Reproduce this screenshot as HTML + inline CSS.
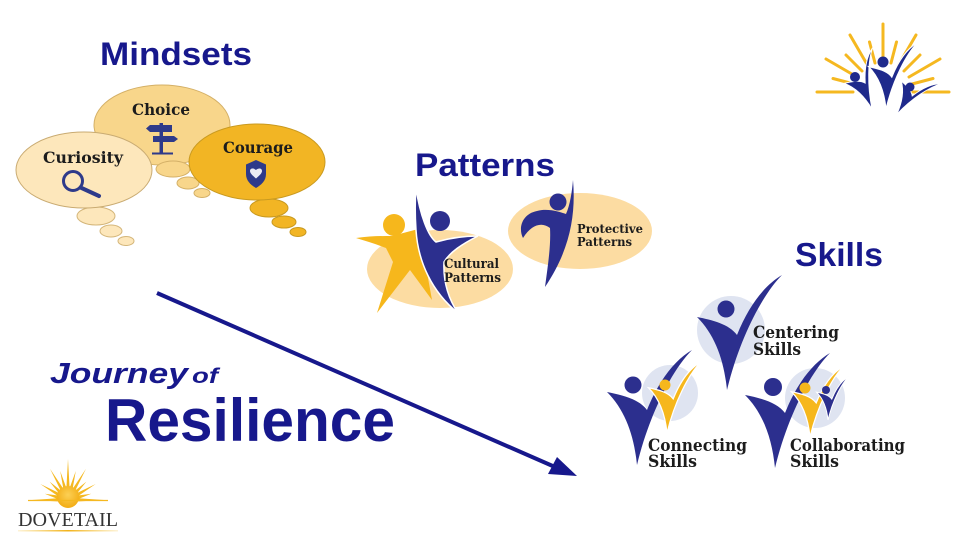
<!DOCTYPE html>
<html><head><meta charset="utf-8"><style>
html,body{margin:0;padding:0;background:#fff;}
svg{display:block;}
</style></head><body>
<svg width="960" height="540" viewBox="0 0 960 540" xmlns="http://www.w3.org/2000/svg">
<defs>
<path id="fig" d="M-30,-73 C-15,-70 2,-66 10,-55 C22,-85 38,-105 55,-115 C35,-95 12,-50 0,0 C-3,-30 -12,-55 -30,-73 Z"/>
<linearGradient id="gl" x1="0" x2="1" y1="0" y2="0">
<stop offset="0" stop-color="#f6c338" stop-opacity="0.2"/><stop offset="0.5" stop-color="#f2b21a"/><stop offset="1" stop-color="#f6c338" stop-opacity="0.2"/>
</linearGradient>
<radialGradient id="sun" cx="0.5" cy="0.4" r="0.6">
<stop offset="0" stop-color="#fcd055"/><stop offset="1" stop-color="#f2ac14"/>
</radialGradient>
</defs>
<rect width="960" height="540" fill="#fff"/>

<!-- Titles -->
<g font-family="Liberation Sans, Arial, sans-serif" font-weight="bold" fill="#17188c">
<text x="100" y="65" font-size="32" textLength="152" lengthAdjust="spacingAndGlyphs">Mindsets</text>
<text x="415" y="176" font-size="32" textLength="140" lengthAdjust="spacingAndGlyphs">Patterns</text>
<text x="795" y="266" font-size="33" textLength="88" lengthAdjust="spacingAndGlyphs">Skills</text>
<text x="50" y="383" font-size="29" font-style="italic" textLength="138" lengthAdjust="spacingAndGlyphs">Journey</text>
<text x="192" y="383" font-size="21" font-style="italic" textLength="26" lengthAdjust="spacingAndGlyphs">of</text>
<text x="105" y="441" font-size="60" textLength="290" lengthAdjust="spacingAndGlyphs">Resilience</text>
</g>

<!-- Mindsets bubbles -->
<g stroke-width="1">
<ellipse cx="162" cy="125" rx="68" ry="40" fill="#f8d68b" stroke="#d4b067"/>
<ellipse cx="173" cy="169" rx="17" ry="8" fill="#f8d68b" stroke="#d4b067"/>
<ellipse cx="188" cy="183" rx="11" ry="6" fill="#f8d68b" stroke="#d4b067"/>
<ellipse cx="202" cy="193" rx="8" ry="4.5" fill="#f8d68b" stroke="#d4b067"/>

<ellipse cx="96" cy="216" rx="19" ry="9" fill="#fde7bb" stroke="#d4b67a"/>
<ellipse cx="111" cy="231" rx="11" ry="6" fill="#fde7bb" stroke="#d4b67a"/>
<ellipse cx="126" cy="241" rx="8" ry="4.5" fill="#fde7bb" stroke="#d4b67a"/>
<ellipse cx="84" cy="170" rx="68" ry="38" fill="#fde7bb" stroke="#c9ab72"/>

<ellipse cx="269" cy="208" rx="19" ry="9" fill="#f2b524" stroke="#c99a20"/>
<ellipse cx="284" cy="222" rx="12" ry="6" fill="#f2b524" stroke="#c99a20"/>
<ellipse cx="298" cy="232" rx="8" ry="4.5" fill="#f2b524" stroke="#c99a20"/>
<ellipse cx="257" cy="162" rx="68" ry="38" fill="#f2b524" stroke="#c99a20"/>
</g>
<g font-family="DejaVu Serif, Liberation Serif, serif" font-weight="bold" fill="#1c1c1c" font-size="16">
<text x="132" y="115" textLength="58" lengthAdjust="spacingAndGlyphs">Choice</text>
<text x="43" y="163" textLength="80" lengthAdjust="spacingAndGlyphs">Curiosity</text>
<text x="223" y="153" textLength="70" lengthAdjust="spacingAndGlyphs">Courage</text>
</g>
<!-- signpost -->
<g fill="#2e3a8a">
<rect x="159.5" y="123" width="3.5" height="31"/>
<path d="M146,128.5 L150,125 L172,125 L172,132 L150,132 Z"/>
<path d="M153,136 L174,136 L178,139 L174,142 L153,142 Z"/>
<rect x="152" y="152.5" width="21" height="2"/>
</g>
<!-- magnifier -->
<g stroke="#2e3a8a" fill="none" stroke-linecap="round">
<circle cx="73" cy="181" r="9.5" stroke-width="3"/>
<line x1="80.5" y1="187.5" x2="99" y2="196" stroke-width="4"/>
</g>
<!-- shield -->
<path d="M256,160 L266,164.5 L266,174 C266,181 261,185 256,188 C251,185 246,181 246,174 L246,164.5 Z" fill="#2e3a8a"/>
<path d="M256,178.5 C252,175 250,173 250,171 C250,168.5 253,167.5 256,170 C259,167.5 262,168.5 262,171 C262,173 260,175 256,178.5 Z" fill="#fff" opacity="0.9"/>

<!-- Patterns -->
<ellipse cx="440" cy="269" rx="73" ry="39" fill="#fcdca2"/>
<ellipse cx="580" cy="231" rx="72" ry="38" fill="#fcdca2"/>
<!-- yellow star person -->
<path d="M356,238 C370,236 382,236 392,236 L422,228 L424,256 L432,300 L410,270 L377,313 L393,262 L386,248 C376,244 366,241 356,238 Z" fill="#f6b71c"/>
<circle cx="394" cy="225" r="11" fill="#f6b71c"/>
<!-- navy person -->
<path d="M416,188 C420,215 428,236 436,242 C450,238 464,236 478,236 C462,244 450,252 444,262 C443,282 448,298 458,313 C432,292 418,262 416,230 C415,215 415,200 416,188 Z" fill="#2c2f8e" stroke="#fff" stroke-width="1.5"/>
<circle cx="440" cy="221" r="10" fill="#2c2f8e"/>
<!-- protective person -->
<path d="M573,180 C576,215 570,250 545,287 C548,265 551,245 550,228 C542,222 532,224 523,238 C518,228 522,214 537,211 C548,208 560,212 566,214 C570,205 572,192 573,180 Z" fill="#2c2f8e"/>
<circle cx="558" cy="202" r="8.5" fill="#2c2f8e"/>
<g font-family="DejaVu Serif, Liberation Serif, serif" font-weight="bold" fill="#1c1c1c">
<text x="444" y="268" font-size="13" textLength="55" lengthAdjust="spacingAndGlyphs">Cultural</text>
<text x="444" y="282" font-size="13" textLength="57" lengthAdjust="spacingAndGlyphs">Patterns</text>
<text x="577" y="233" font-size="12.5" textLength="66" lengthAdjust="spacingAndGlyphs">Protective</text>
<text x="577" y="246" font-size="12.5" textLength="55" lengthAdjust="spacingAndGlyphs">Patterns</text>
</g>

<!-- Skills -->
<circle cx="731" cy="330" r="34" fill="#dfe4f1"/>
<circle cx="670" cy="393" r="28" fill="#dfe4f1"/>
<circle cx="815" cy="398" r="30" fill="#dfe4f1"/>
<g fill="#2c2f8e">
<use href="#fig" transform="translate(727,390)"/>
<circle cx="726" cy="309" r="8.5"/>
<use href="#fig" transform="translate(637,465)"/>
<circle cx="633" cy="385" r="8.5"/>
<use href="#fig" transform="translate(775,468)"/>
<circle cx="773" cy="387" r="9"/>
</g>
<g fill="#f6b71c" stroke="#fff" stroke-width="2">
<use href="#fig" transform="translate(667,433) scale(0.62)"/>
<use href="#fig" transform="translate(810,437) scale(0.62)"/>
</g>
<circle cx="665" cy="385" r="5.5" fill="#f6b71c"/>
<circle cx="805" cy="388" r="5.5" fill="#f6b71c"/>
<use href="#fig" transform="translate(828,420) scale(0.38)" fill="#2c2f8e" stroke="#fff" stroke-width="2.5"/>
<circle cx="826" cy="390" r="4" fill="#2c2f8e"/>
<g font-family="DejaVu Serif, Liberation Serif, serif" font-weight="bold" fill="#1c1c1c" font-size="17">
<text x="753" y="338" textLength="86" lengthAdjust="spacingAndGlyphs">Centering</text>
<text x="753" y="355" textLength="48" lengthAdjust="spacingAndGlyphs">Skills</text>
<text x="648" y="451" textLength="99" lengthAdjust="spacingAndGlyphs">Connecting</text>
<text x="648" y="467" textLength="49" lengthAdjust="spacingAndGlyphs">Skills</text>
<text x="790" y="451" textLength="115" lengthAdjust="spacingAndGlyphs">Collaborating</text>
<text x="790" y="467" textLength="49" lengthAdjust="spacingAndGlyphs">Skills</text>
</g>

<!-- Arrow -->
<line x1="157" y1="293" x2="555" y2="467" stroke="#17188c" stroke-width="4"/>
<path d="M577,476 L557,457 L548,474 Z" fill="#17188c"/>

<!-- Top-right logo -->
<g stroke="#f5b820" stroke-width="3" stroke-linecap="round">
<line x1="913" y1="92" x2="949" y2="92"/>
<line x1="912" y1="84" x2="933" y2="78.5"/>
<line x1="909" y1="77" x2="940" y2="59"/>
<line x1="904" y1="71" x2="920" y2="55"/>
<line x1="898" y1="66" x2="916" y2="35"/>
<line x1="891" y1="63" x2="896.5" y2="42"/>
<line x1="883" y1="60" x2="883" y2="24"/>
<line x1="875" y1="63" x2="869.5" y2="42"/>
<line x1="868" y1="66" x2="850" y2="35"/>
<line x1="862" y1="71" x2="846" y2="55"/>
<line x1="857" y1="77" x2="826" y2="59"/>
<line x1="854" y1="84" x2="833" y2="78.5"/>
<line x1="853" y1="92" x2="817" y2="92"/>
</g>
<g fill="#1f2a8c">
<use href="#fig" transform="translate(872,109) rotate(-25) scale(0.48)" stroke="#fff" stroke-width="2"/>
<circle cx="855" cy="77" r="5"/>
<use href="#fig" transform="translate(886,109) scale(0.58)" stroke="#fff" stroke-width="2"/>
<circle cx="883" cy="62" r="5.5"/>
<use href="#fig" transform="translate(897,114) rotate(30) scale(0.42)" stroke="#fff" stroke-width="2"/>
<circle cx="910" cy="87" r="4.5"/>
</g>

<!-- Dovetail logo -->
<polygon fill="#f5b820" points="104,500 79.9,498.4 91.2,493.8 79.1,495.4 95.7,484 77.5,492.7 86.4,481.6 75.3,490.5 86,468.8 72.6,488.9 75.8,471 69.6,488.1 68,459 66.4,488.1 60.2,471 63.4,488.9 50,468.8 60.7,490.5 49.6,481.6 58.5,492.7 40.3,484 56.9,495.4 44.8,493.8 56.1,498.4 32,500 68,502"/>
<circle cx="68" cy="497" r="11" fill="url(#sun)"/>
<line x1="28" y1="500.5" x2="108" y2="500.5" stroke="#f5b820" stroke-width="1.2"/>
<text x="18" y="526" font-family="Liberation Serif, serif" font-size="20" fill="#333" textLength="100" lengthAdjust="spacingAndGlyphs">DOVETAIL</text>
<rect x="18" y="530" width="100" height="1.5" fill="url(#gl)"/>
</svg>
</body></html>
